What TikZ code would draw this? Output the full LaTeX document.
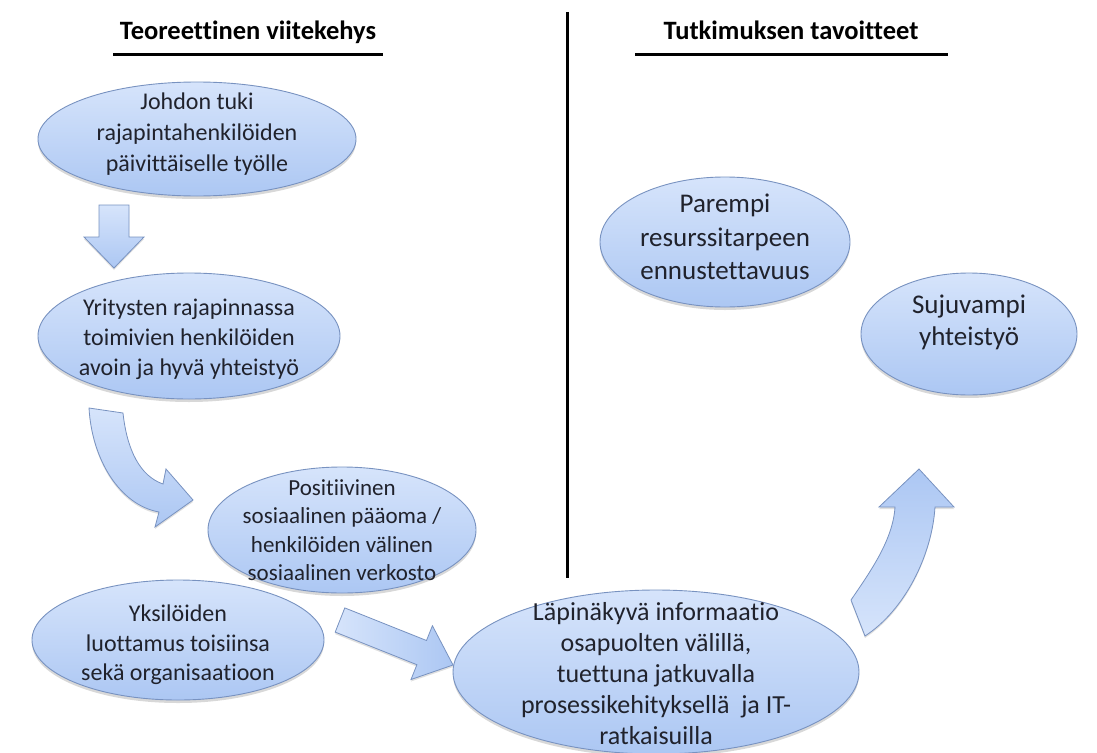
\documentclass[tikz,border=0pt]{standalone}
\usepackage{fontspec}
\setmainfont{Carlito}[Ligatures=NoCommon]
\usetikzlibrary{shapes.geometric,shadows}
\definecolor{txt}{RGB}{32,34,44}
\definecolor{bord}{RGB}{120,146,192}
\definecolor{blueDark}{RGB}{172,199,243}
\definecolor{blueLight}{RGB}{214,228,251}
\tikzset{
  bubble/.style={ellipse, draw=bord, line width=0.9pt,
    top color=blueLight, bottom color=blueDark, inner sep=0pt,
    drop shadow={shadow xshift=0pt, shadow yshift=-3pt, opacity=0.22, fill=black!70}},
  btext/.style={align=center, text=txt, inner sep=0pt},
  blockarrow/.style={draw=bord, line width=0.8pt, line join=miter,
    drop shadow={shadow xshift=0pt, shadow yshift=-2pt, opacity=0.18, fill=black!70}},
  heading/.style={font=\fontsize{26.5}{30}\selectfont\bfseries, text=black, inner sep=0pt},
  rule/.style={line width=3pt, black}
}
\begin{document}
\begin{tikzpicture}[x=1pt,y=-1pt]
  \useasboundingbox (0,0) rectangle (1097,752);

  % column headings and rules
  \node[heading, anchor=base] (hleft) at (248,40) {Teoreettinen viitekehys};
  \node[heading, anchor=base] (hright) at (791,40) {Tutkimuksen tavoitteet};
  \draw[rule] (113,55) -- (383,55);
  \draw[rule] (635,55) -- (948,55);
  \draw[rule] (567,12) -- (567,578);

  % block arrows
  \path[blockarrow, top color=blueLight, bottom color=blueDark]
    (99,205) -- (129,205) -- (129,237) -- (144,237) -- (114,268)
    -- (84,237) -- (99,237) -- cycle;
  \path[blockarrow, top color=blueLight, bottom color=blueDark]
    (89,408) -- (123,413) .. controls (127,450) and (140,476) .. (163,484)
    -- (166,469) -- (193,500) -- (155,527) -- (159,512)
    .. controls (120,505) and (92,460) .. (89,408) -- cycle;
  \path[blockarrow, left color=blueLight, right color=blueDark]
    (344.8,607.9) -- (426.5,640.5) -- (432.4,625.7) -- (453,665)
    -- (411,679.5) -- (416.9,664.7) -- (335.2,632.1) -- cycle;
  \path[blockarrow, top color=blueDark, bottom color=blueLight]
    (851,600) .. controls (870,572) and (893,540) .. (895,507)
    -- (879,507) -- (919,469) -- (954,507) -- (935,507)
    .. controls (932,555) and (905,610) .. (865,636) -- cycle;

  % left column
  \node[bubble, minimum width=318pt, minimum height=114pt] (tuki) at (197,139) {};
  \node[btext, font=\fontsize{24}{31}\selectfont] at ([yshift=5pt]tuki.center)
    {Johdon tuki\\rajapintahenkilöiden\\päivittäiselle työlle};

  \node[bubble, minimum width=302pt, minimum height=126pt] (yhteistyo) at (189,336) {};
  \node[btext, font=\fontsize{24}{30}\selectfont] at ([yshift=-3pt]yhteistyo.center)
    {Yritysten rajapinnassa\\toimivien henkilöiden\\avoin ja hyvä yhteistyö};

  \node[bubble, minimum width=268pt, minimum height=126pt] (paaoma) at (342,530) {};
  \node[btext, font=\fontsize{23}{28.5}\selectfont] at (paaoma.center)
    {Positiivinen\\sosiaalinen pääoma /\\henkilöiden välinen\\sosiaalinen verkosto};

  \node[bubble, minimum width=292pt, minimum height=120pt] (luottamus) at (178,640) {};
  \node[btext, font=\fontsize{24}{29.5}\selectfont] at ([yshift=-5pt]luottamus.center)
    {Yksilöiden\\luottamus toisiinsa\\sekä organisaatioon};

  \node[bubble, minimum width=406pt, minimum height=164pt] (informaatio) at (656,672) {};
  \node[btext, font=\fontsize{26}{31}\selectfont] at ([yshift=-2pt]informaatio.center)
    {Läpinäkyvä informaatio\\osapuolten välillä,\\tuettuna jatkuvalla\\prosessikehityksellä\ \ ja IT-\\ratkaisuilla};

  % right column
  \node[bubble, minimum width=250pt, minimum height=130pt] (ennuste) at (725,242) {};
  \node[btext, font=\fontsize{27}{33.5}\selectfont] at ([yshift=5pt]ennuste.center)
    {Parempi\\resurssitarpeen\\ennustettavuus};

  \node[bubble, minimum width=216pt, minimum height=122pt] (sujuvampi) at (969,334) {};
  \node[btext, font=\fontsize{27}{32}\selectfont] at ([yshift=12pt]sujuvampi.center)
    {Sujuvampi\\yhteistyö};
\end{tikzpicture}
\end{document}
